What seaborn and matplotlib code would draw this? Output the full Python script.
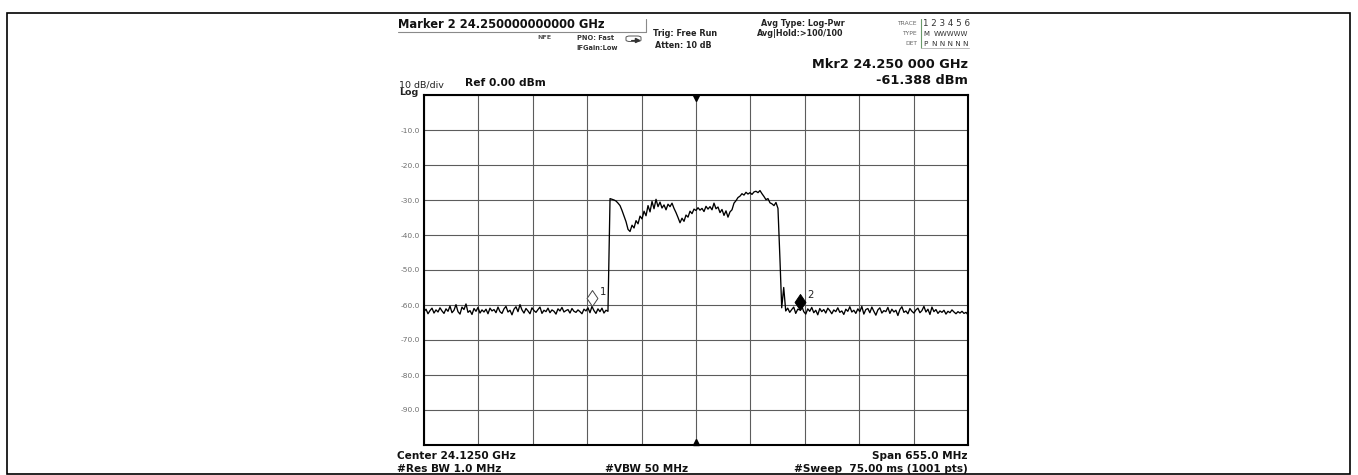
import numpy as np
import pandas as pd
import matplotlib
matplotlib.use("Agg")
import matplotlib.pyplot as plt
import seaborn as sns
from matplotlib.patches import Rectangle, FancyBboxPatch
from matplotlib.lines import Line2D

# ---- analyzer settings ----
CENTER_GHZ = 24.125
SPAN_MHZ = 655.0
REF_DBM = 0.0
DB_PER_DIV = 10
N_DIV = 10

# ---- trace levels (dBm), split into the sweep segments ----
left_floor_dbm = [
    -61.9, -61.2, -62.5, -61.6, -60.9, -62.3, -61.4, -62.0, -60.8, -61.7,
    -62.4, -61.1, -61.8, -60.3, -62.2, -61.5, -59.9, -61.9, -62.6, -60.6,
    -61.3, -59.7, -62.1, -61.6, -62.7, -61.0, -61.8, -60.7, -62.3, -61.4,
    -62.0, -61.2, -62.5, -60.9, -61.7, -61.3, -62.2, -60.6, -61.9, -62.4,
    -61.1, -60.4, -62.0, -61.5, -62.8, -61.2, -60.5, -61.9, -59.9, -61.4,
    -62.3, -61.0, -61.7, -62.5, -60.8, -61.6, -62.1, -61.3, -60.6, -62.4,
    -61.5, -61.9, -60.9, -62.2, -61.4, -61.8, -62.6, -61.1, -61.7, -60.7,
    -62.0, -61.6, -61.3, -62.3, -61.0, -61.8, -62.1, -61.4, -61.9, -62.5,
    -61.2, -61.7, -60.8, -62.2, -60.4, -61.6, -62.4, -61.1, -61.9, -60.9,
    -62.3, -61.5, -61.8,
]
band_dbm = [
    -29.6, -29.8, -30.0, -30.3, -30.9, -31.6, -33.0, -34.6, -36.2, -38.4,
    -39.0, -37.2, -38.0, -35.9, -36.8, -34.6, -35.4, -33.2, -34.5, -31.6,
    -33.4, -30.4, -32.5, -29.8, -31.9, -30.6, -32.3, -31.4, -32.8, -31.2,
    -31.9, -30.9, -32.4, -33.6, -35.0, -36.5, -35.2, -36.1, -34.3, -34.9,
    -33.2, -33.9, -32.6, -33.0, -32.2, -32.9, -32.4, -33.3, -31.8, -32.6,
    -31.9, -32.8, -30.9, -32.5, -32.0, -33.6, -32.7, -34.4, -33.1, -34.9,
    -33.4, -32.8, -30.9, -30.2, -29.3, -28.9, -28.2, -28.6, -27.8, -28.3,
    -27.9, -28.4, -27.7, -27.5, -27.9, -27.3, -28.2, -29.0, -29.9, -29.6,
    -30.8, -31.1, -31.6, -30.7, -32.4, -47.0,
]
right_floor_dbm = [
    -60.8, -55.0, -61.7, -60.9, -62.1, -61.3, -60.6, -62.4, -61.2, -61.4,
    -60.3, -61.9, -62.6, -61.1, -61.8, -60.7, -62.2, -61.5, -62.8, -61.0,
    -61.9, -61.3, -62.3, -60.9, -61.6, -62.5, -61.4, -61.9, -60.8, -62.1,
    -61.7, -62.7, -61.2, -61.8, -60.5, -62.0, -61.5, -62.4, -61.1, -61.9,
    -60.4, -62.6, -61.3, -61.0, -62.2, -60.6, -61.8, -62.9, -61.4, -60.8,
    -62.3, -61.6, -61.9, -60.7, -62.4, -61.2, -62.0, -61.5, -63.0, -61.3,
    -60.5, -62.1, -61.7, -62.5, -61.0, -61.8, -62.3, -61.4, -60.9, -62.2,
    -61.6, -60.4, -62.0, -61.2, -62.7, -60.6, -61.9, -61.3, -62.4, -61.7,
    -62.1, -61.5, -62.6, -61.8, -62.2, -61.4, -62.0, -62.5, -61.9, -62.3,
    -61.8, -62.4, -62.1, -62.8,
]

# frequency range (GHz) covered by each segment
left_range_ghz = (23.7975, 24.0190)
band_range_ghz = (24.0215, 24.2261)
right_range_ghz = (24.2282, 24.4525)

# markers
marker_ids = ["1", "2"]
marker_freq_ghz = [24.000, 24.250]
marker_dbm = [-60.4, -61.388]
marker_filled = [False, True]

y_tick_dbm = [-10, -20, -30, -40, -50, -60, -70, -80, -90]

# ---- assemble the sweep ----
freq = np.concatenate([
    np.linspace(*left_range_ghz, len(left_floor_dbm)),
    np.linspace(*band_range_ghz, len(band_dbm)),
    np.linspace(*right_range_ghz, len(right_floor_dbm)),
])
level = np.array(left_floor_dbm + band_dbm + right_floor_dbm)
trace = pd.DataFrame({"freq_ghz": freq, "dbm": level})

f_start = CENTER_GHZ - SPAN_MHZ / 2000.0
f_stop = CENTER_GHZ + SPAN_MHZ / 2000.0
y_bottom = REF_DBM - DB_PER_DIV * N_DIV

sns.set_theme(style="white")
plt.rcParams["font.family"] = ["DejaVu Sans"]

W, H = 1358, 475
fig = plt.figure(figsize=(W / 100, H / 100), dpi=100)
fig.patch.set_facecolor("white")


def fx(x):
    return x / W


def fy(y):
    return 1 - y / H


def ftext(x, y, s, **kw):
    kw.setdefault("va", "center")
    fig.text(fx(x), fy(y), s, **kw)


def fline(xs, ys, **kw):
    fig.add_artist(Line2D([fx(v) for v in xs], [fy(v) for v in ys],
                          transform=fig.transFigure, **kw))


# graticule
ax = fig.add_axes([fx(424), fy(445), (968 - 424) / W, (445 - 95) / H])
ax.set_facecolor("white")
ax.set_xlim(f_start, f_stop)
ax.set_ylim(y_bottom, REF_DBM)
ax.set_xticks(np.linspace(f_start, f_stop, N_DIV + 1))
ax.set_yticks([REF_DBM - DB_PER_DIV * k for k in range(N_DIV + 1)])
ax.set_xticklabels([])
ax.set_yticklabels(["" if v not in y_tick_dbm else f"{v:.1f}"
                    for v in ax.get_yticks()])
ax.tick_params(axis="both", length=0)
ax.tick_params(axis="y", pad=3, labelsize=5.4, labelcolor="#6e6e6e")
ax.grid(True, color="#5c5c5c", lw=0.8)
ax.set_axisbelow(True)
for sp in ax.spines.values():
    sp.set_color("black")
    sp.set_linewidth(1.5)

sns.lineplot(data=trace, x="freq_ghz", y="dbm", ax=ax, color="black",
             lw=0.95, estimator=None, sort=False, legend=False, zorder=3)
ax.set_xlabel("")
ax.set_ylabel("")

# center-frequency indicators on top and bottom edges
ax.plot([CENTER_GHZ], [REF_DBM - 0.9], marker="v", ms=4.5, color="black",
        ls="none", clip_on=False, zorder=5)
ax.plot([CENTER_GHZ], [y_bottom + 0.9], marker="^", ms=4.5, color="black",
        ls="none", clip_on=False, zorder=5)

# marker diamonds, tip on the trace level
diamond = [(0, 0), (0.34, 0.5), (0, 1), (-0.34, 0.5), (0, 0)]
for mid, mf, md, filled in zip(marker_ids, marker_freq_ghz, marker_dbm, marker_filled):
    ax.plot([mf], [md], marker=diamond, ms=23, ls="none",
            mfc="black" if filled else "white", mec="black" if filled else "#444444",
            mew=0.7, zorder=4)
    ax.annotate(mid, (mf, md), xytext=(5.3, 10.5), textcoords="offset points",
                ha="left", va="center", fontsize=7.2, color="#222222",
                bbox=dict(fc="white", ec="none", pad=0.4), zorder=5)

# ---- header ----
ftext(398, 24.5, f"Marker {marker_ids[1]} {marker_freq_ghz[1]:.12f} GHz",
      fontsize=8.3, weight="bold", color="#111111")
fline([398, 646], [32, 32], color="#8a8a8a", lw=0.8)
fline([646, 646], [19, 32], color="#8a8a8a", lw=0.8)
ftext(537, 37.5, "NFE", fontsize=4.6, weight="bold", color="#555555")
ftext(577, 37.5, "PNO: Fast", fontsize=4.8, weight="bold", color="#333333")
ftext(576, 47.5, "IFGain:Low", fontsize=4.8, weight="bold", color="#333333")
fig.add_artist(FancyBboxPatch((fx(626), fy(41.5)), (641 - 626) / W, 5.5 / H,
                              boxstyle="round,pad=0,rounding_size=0.003",
                              transform=fig.transFigure, fc="none",
                              ec="#555555", lw=0.7))
fig.add_artist(Line2D([fx(631), fx(637)], [fy(39.5), fy(39.5)],
                      transform=fig.transFigure, color="#333333", lw=0.8))
fig.add_artist(Line2D([fx(637)], [fy(39.5)], transform=fig.transFigure,
                      marker=">", ms=3, color="#333333", ls="none"))

ftext(653, 33.8, "Trig: Free Run", fontsize=5.9, weight="bold", color="#222222")
ftext(655, 45.8, "Atten: 10 dB", fontsize=5.8, weight="bold", color="#222222")
ftext(761, 23.3, "Avg Type: Log-Pwr", fontsize=5.8, weight="bold", color="#222222")
ftext(757, 33.3, "Avg|Hold:>100/100", fontsize=5.8, weight="bold", color="#222222")

# trace table
ftext(917, 23.3, "TRACE", fontsize=4.3, ha="right", color="#666666")
ftext(917, 33.3, "TYPE", fontsize=4.3, ha="right", color="#666666")
ftext(917, 43.3, "DET", fontsize=4.3, ha="right", color="#666666")
ftext(923, 24.0, "1 2 3 4 5 6", fontsize=6.3, ha="left", color="#333333")
ftext(923, 33.5, "M", fontsize=5.0, ha="left", color="#333333")
ftext(968.5, 33.5, "WWWWW", fontsize=5.0, ha="right", color="#333333")
ftext(923, 43.5, "P", fontsize=5.2, ha="left", color="#333333")
ftext(968.5, 43.5, "N N N N N", fontsize=5.2, ha="right", color="#333333")
fline([920.5, 920.5], [19, 47.5], color="#6a9a6a", lw=0.8)
fline([920.5, 969], [47.5, 47.5], color="#bbbbbb", lw=0.7)

# active marker readout
mf_txt = f"{marker_freq_ghz[1]:.6f}"
ftext(968, 65, f"Mkr{marker_ids[1]} {mf_txt[:-3]} {mf_txt[-3:]} GHz",
      fontsize=9.3, weight="bold", ha="right", color="#111111")
ftext(968, 80, f"{marker_dbm[1]:.3f} dBm", fontsize=9.3, weight="bold",
      ha="right", color="#111111")

# scale info
ftext(399, 85.5, f"{DB_PER_DIV} dB/div", fontsize=6.8, color="#222222")
ftext(399, 92.5, "Log", fontsize=6.8, weight="bold", color="#222222")
ftext(465, 83.5, f"Ref {REF_DBM:.2f} dBm", fontsize=7.7, weight="bold",
      color="#111111")

# ---- footer ----
ftext(397, 456, f"Center {CENTER_GHZ:.4f} GHz", fontsize=7.6, weight="bold",
      color="#111111")
ftext(397, 468.5, "#Res BW 1.0 MHz", fontsize=7.6, weight="bold", color="#111111")
ftext(605, 468.5, "#VBW 50 MHz", fontsize=7.6, weight="bold", color="#111111")
ftext(968, 456, f"Span {SPAN_MHZ:.1f} MHz", fontsize=7.6, weight="bold",
      ha="right", color="#111111")
ftext(968, 468.5, "#Sweep  75.00 ms (1001 pts)", fontsize=7.6, weight="bold",
      ha="right", color="#111111")

# outer frame
fig.add_artist(Rectangle((fx(7), fy(474)), (1350 - 7) / W, (474 - 13) / H,
                         transform=fig.transFigure, fill=False,
                         ec="black", lw=1.2))

fig.savefig("out.png", dpi=100, facecolor="white")
